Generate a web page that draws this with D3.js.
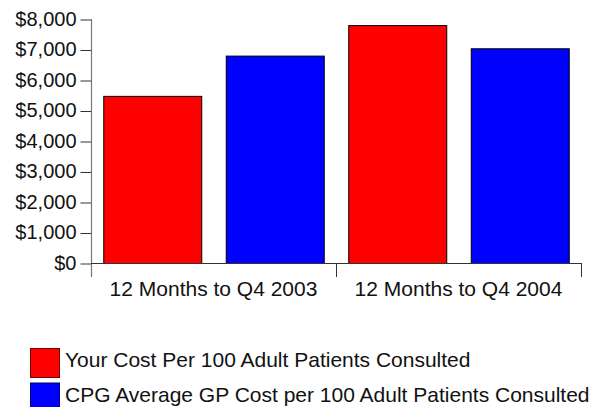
<!DOCTYPE html>
<html>
<head>
    <meta charset="utf-8">
    <style>
        body { margin: 0; background: #fff; }
        svg text { font-family: "Liberation Sans", Arial, sans-serif; fill: #111; }
    </style>
</head>
<body>
    <svg width="598" height="407"></svg>

<script src="https://d3js.org/d3.v7.min.js"></script>
<script>
    // chart values
    let categories = ["12 Months to Q4 2003", "12 Months to Q4 2004"]
    let seriesNames = ["Your Cost Per 100 Adult Patients Consulted",
                       "CPG Average GP Cost per 100 Adult Patients Consulted"]
    let yourCost = [5480, 7800]
    let cpgAverage = [6800, 7040]
    let yTicks = [0, 1000, 2000, 3000, 4000, 5000, 6000, 7000, 8000]
    let colors = ["#ff0000", "#0000ff"]
    let strokes = ["#6b0000", "#00006b"]

    let svg = d3.select("svg")
    let plotLeft = 91, plotRight = 581, plotTop = 19, plotBottom = 263
    let tickFont = "20px"
    let labelFont = "21px"

    let x = d3.scaleBand()
        .domain(categories)
        .range([plotLeft, plotRight])
        .padding(0)

    let xInner = d3.scaleBand()
        .domain(d3.range(seriesNames.length))
        .range([0, x.bandwidth()])
        .paddingInner(0.2)
        .paddingOuter(0.1)

    let y = d3.scaleLinear()
        .domain([0, 8000])
        .range([plotBottom, plotTop])

    let rows = categories.map((c, i) => ({cat: c, values: [yourCost[i], cpgAverage[i]]}))

    // bars
    let groups = svg.append("g")
        .selectAll("g")
        .data(rows)
        .join("g")
        .attr("transform", d => `translate(${x(d.cat)},0)`)

    groups.selectAll("rect")
        .data(d => d.values.map((v, k) => ({k: k, v: v})))
        .join("rect")
        .attr("x", d => xInner(d.k) + 0.5)
        .attr("y", d => y(d.v) + 0.5)
        .attr("width", xInner.bandwidth())
        .attr("height", d => y(0) - y(d.v))
        .style("fill", d => colors[d.k])
        .style("stroke", "#000")
        .style("stroke-width", 1)

    // y axis
    let yAxis = svg.append("g")
        .attr("transform", `translate(${plotLeft + 0.5},0)`)
        .call(d3.axisLeft(y)
            .tickValues(yTicks)
            .tickSize(11)
            .tickPadding(4)
            .tickFormat(d => "$" + d3.format(",")(d)))
    yAxis.select(".domain").remove()
    yAxis.selectAll(".tick line").attr("transform", "translate(0,0.5)").style("stroke", "#333")
    yAxis.selectAll("text").style("font-size", tickFont)
    yAxis.append("line")
        .attr("y1", plotTop)
        .attr("y2", 277)
        .style("stroke", "#777")
        .style("stroke-width", 1.2)

    // x axis
    let xAxis = svg.append("g")
    xAxis.append("line")
        .attr("x1", plotLeft)
        .attr("x2", plotRight)
        .attr("y1", plotBottom + 0.5)
        .attr("y2", plotBottom + 0.5)
        .style("stroke", "#333")
    xAxis.selectAll(".sep")
        .data(categories)
        .join("line")
        .attr("x1", d => x(d) + x.bandwidth() + 0.5)
        .attr("x2", d => x(d) + x.bandwidth() + 0.5)
        .attr("y1", plotBottom)
        .attr("y2", 277)
        .style("stroke", "#333")
    xAxis.selectAll("text")
        .data(categories)
        .join("text")
        .attr("x", d => x(d) + x.bandwidth() / 2)
        .attr("y", 296)
        .attr("text-anchor", "middle")
        .style("font-size", labelFont)
        .text(d => d)

    // legend
    let legend = svg.append("g")
        .selectAll("g")
        .data(seriesNames)
        .join("g")
        .attr("transform", (d, i) => `translate(30,${348 + i * 34.5})`)

    legend.append("rect")
        .attr("x", 0.5)
        .attr("y", 0.5)
        .attr("width", 29)
        .attr("height", 29)
        .style("fill", (d, i) => colors[i])
        .style("stroke", (d, i) => strokes[i])

    legend.append("text")
        .attr("x", 35)
        .attr("y", 12)
        .attr("dy", "0.35em")
        .style("font-size", labelFont)
        .text(d => d)
</script>
</body>
</html>
